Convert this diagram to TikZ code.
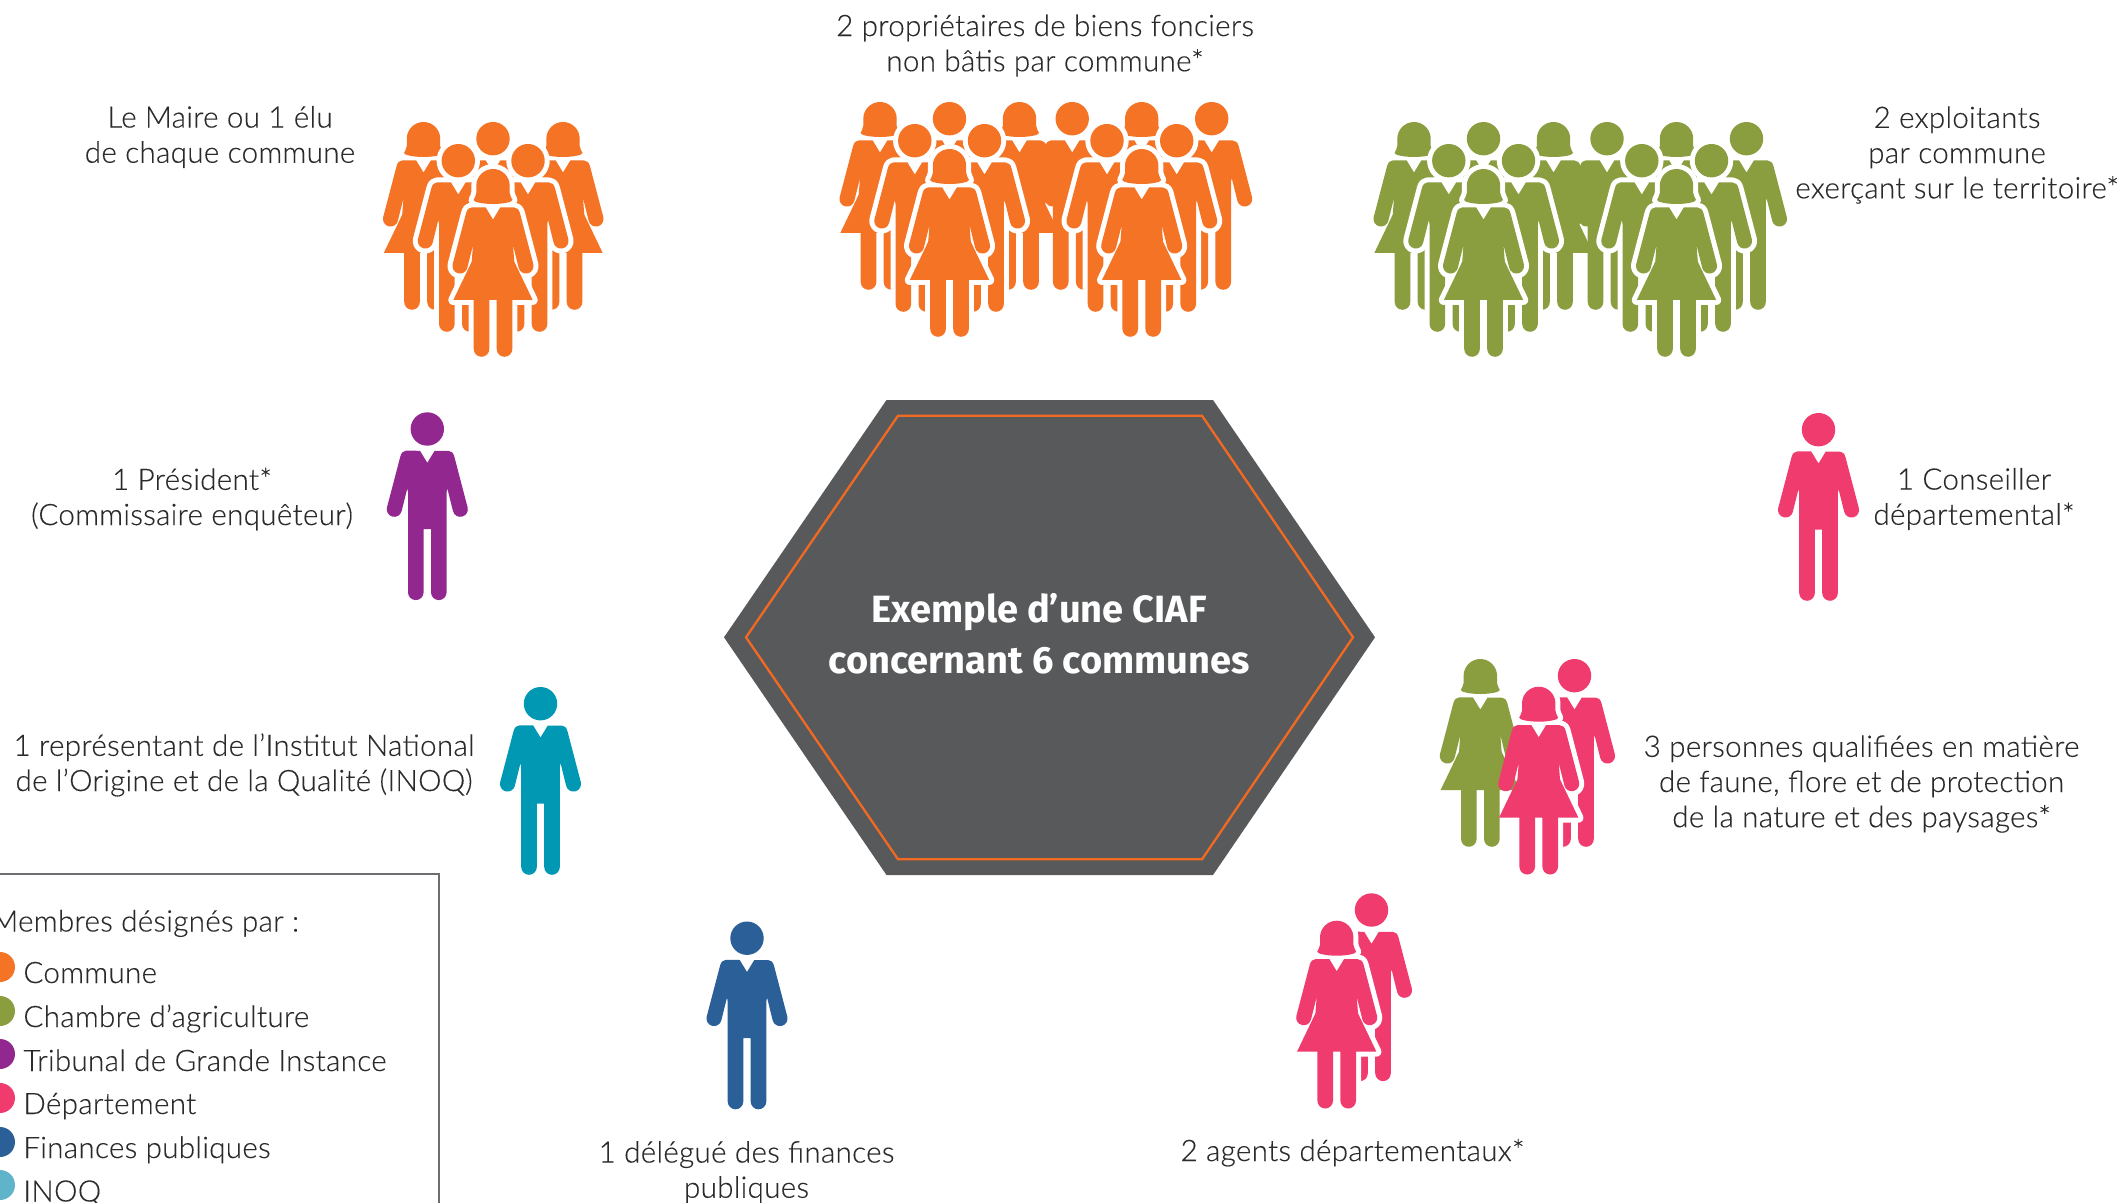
\documentclass[tikz,border=0pt]{standalone}
\usepackage{fontspec}
\setmainfont{Lato Light}[LetterSpace=1.0,FakeBold=0.25]
\newfontfamily\titlefont{Fira Sans}
\definecolor{cOrange}{HTML}{F47325}
\definecolor{cGreen}{HTML}{8A9E40}
\definecolor{cPurple}{HTML}{92278F}
\definecolor{cPink}{HTML}{F03B6E}
\definecolor{cBlue}{HTML}{2B5F97}
\definecolor{cTeal}{HTML}{0098B3}
\definecolor{cSky}{HTML}{5FB4C9}
\definecolor{cHex}{HTML}{58595B}
\definecolor{cLine}{HTML}{F26A21}
\definecolor{cBox}{HTML}{6D6E71}
\definecolor{cText}{HTML}{2B2B2D}
% shapes, in pixels, origin at the top centre of the head
\newcommand\armL{(-20,76) -- (-25.7,98.9) .. controls (-26.77,102.96) and (-30.84,105.37) .. (-34.9,104.3) .. controls (-38.96,103.23) and (-41.37,99.1) .. (-40.3,95.06) -- (-27,44.3) .. controls (-26,40.5) and (-24,38.3) .. (-21,38.3)}
\newcommand\legs{.. controls (19.3,184.3) and (15.8,187.8) .. (11.5,187.8) .. controls (7.2,187.8) and (3.7,184.3) .. (3.7,180)}
\newcommand\legL{.. controls (-3.7,184.3) and (-7.2,187.8) .. (-11.5,187.8) .. controls (-15.8,187.8) and (-19.3,184.3) .. (-19.3,180)}
\newcommand\manshape{(0,16.7) circle (16.7)
  (7.3,38.5) -- (21,38.5) .. controls (24,38.5) and (26,40.5) .. (27,44.3) -- (40.3,95.06) .. controls (41.37,99.1) and (38.96,103.23) .. (34.9,104.3) .. controls (30.84,105.37) and (26.77,102.96) .. (25.7,98.9) -- (20,76)
  -- (19.3,80) -- (19.3,180) \legs -- (3.7,116.7) -- (-3.7,116.7) -- (-3.7,180) \legL -- (-19.3,80) -- \armL -- (-7.3,38.5) -- (0,50.5) -- cycle}
\newcommand\womanshape{(-16.7,16.7) .. controls (-16.7,7.5) and (-9.2,0) .. (0,0) .. controls (9.2,0) and (16.7,7.5) .. (16.7,16.7) -- (16.7,24) .. controls (16.7,27) and (19,29) .. (19.5,31) .. controls (19.5,33) and (10,35) .. (0,35) .. controls (-10,35) and (-19.5,33) .. (-19.5,31) .. controls (-19,29) and (-16.7,27) .. (-16.7,24) -- cycle
  (7.3,38.5) -- (21,38.5) .. controls (24,38.5) and (26,40.5) .. (27,44.3) -- (40.3,95.06) .. controls (41.37,99.1) and (38.96,103.23) .. (34.9,104.3) .. controls (30.84,105.37) and (26.77,102.96) .. (25.7,98.9) -- (20,76)
  -- (21.3,92.7) -- (39.7,131) -- (19.3,131) -- (19.3,180) \legs -- (3.7,131) -- (-3.7,131) -- (-3.7,180) \legL -- (-19.3,131) -- (-39.7,131) -- (-21.3,92.7) -- \armL -- (-7.3,38.5) -- (0,50.5) -- cycle}
% figure: shape, colour, x, y
\newcommand\fig[4]{\fill[#2,shift={(#3,#4)}] #1;}
% the white rim alone
\newcommand\rim[3]{\draw[rimline,shift={(#2,#3)}] #1;}
% figure with a white rim
\newcommand\rimfig[4]{\rim{#1}{#3}{#4}\fig{#1}{#2}{#3}{#4}}
% a cluster: front woman at x,y; back row shapes given
\newcommand\cluster[6]{%
  \fig{#1}{#4}{#5-69.5}{#6-47}\fig{#2}{#4}{#5}{#6-47}\fig{#3}{#4}{#5+70}{#6-47}%
  \rimfig{\manshape}{#4}{#5-34.7}{#6-25}\rimfig{\manshape}{#4}{#5+35}{#6-25}%
  \rimfig{\womanshape}{#4}{#5}{#6}}
\tikzset{
  rimline/.style={draw=white,line width=5pt,line join=round},
  lab/.style={text=cText,font=\fontsize{14.8}{17.6}\selectfont,align=center,anchor=base,inner sep=0pt},
  keytext/.style={text=cText,font=\fontsize{14.8}{17.6}\selectfont,anchor=base west,inner sep=0pt},
  dot/.style={circle,minimum size=15pt,inner sep=0pt},
}
\begin{document}
\begin{tikzpicture}[x=0.5pt,y=-0.5pt]
\useasboundingbox (0,0) rectangle (2118,1203);
\clip (0,0) rectangle (2118,1203);
\fill[white] (0,0) rectangle (2118,1203);
% hexagon
\fill[cHex] (724,637.3) -- (886.5,400) -- (1213,400) -- (1375,637.3) -- (1213,875) -- (886.5,875) -- cycle;
\draw[cLine,line width=1.15pt,line join=miter] (746,637.3) -- (898,415.7) -- (1202,415.7) -- (1353,637.3) -- (1202,859.3) -- (898,859.3) -- cycle;
\node[text=white,font=\titlefont\bfseries\fontsize{19}{25.3}\selectfont,align=center,anchor=center,inner sep=0pt] (title) at (1039,634) {Exemple d’une CIAF\\concernant 6 communes};
% clusters
\cluster{\womanshape}{\manshape}{\womanshape}{cOrange}{493}{169}
\cluster{\womanshape}{\manshape}{\womanshape}{cOrange}{949.5}{149}
\cluster{\manshape}{\womanshape}{\manshape}{cOrange}{1141.7}{149}
\cluster{\womanshape}{\manshape}{\womanshape}{cGreen}{1483.5}{169}
\cluster{\manshape}{\womanshape}{\manshape}{cGreen}{1676.5}{169}
% single figures
\fig{\manshape}{cPurple}{427.3}{412.3}
\fig{\manshape}{cPink}{1818.5}{413}
\fig{\manshape}{cTeal}{540.5}{687}
\fig{\manshape}{cBlue}{747}{921.5}
% three qualified persons
\fig{\manshape}{cPink}{1574.5}{659}
\rim{\womanshape}{1538.7}{686.7}
\fig{\womanshape}{cGreen}{1480.3}{659}
\fig{\womanshape}{cPink}{1538.7}{686.7}
% two agents
\fig{\manshape}{cPink}{1371.5}{893.3}
\rimfig{\womanshape}{cPink}{1336.7}{920.7}
% labels
\node[lab,anchor=center] (l1) at (220,137) {Le Maire ou 1 élu\\de chaque commune};
\node[lab,anchor=center] (l2) at (1045,45.5) {2 propriétaires de biens fonciers\\non bâtis par commune*};
\node[lab,anchor=center] (l3) at (1957,155) {2 exploitants\\par commune\\exerçant sur le territoire*};
\node[lab,anchor=center] (l4) at (192,499) {1 Président*\\(Commissaire enquêteur)};
\node[lab,anchor=center] (l5) at (1974,499) {1 Conseiller\\départemental*};
\node[lab,anchor=center] (l6) at (244,765) {1 représentant de l’Institut National\\de l’Origine et de la Qualité (INOQ)};
\node[lab,anchor=center] (l7) at (1861.5,784) {3 personnes qualifiées en matière\\de faune, flore et de protection\\de la nature et des paysages*};
\node[lab,anchor=center] (l8) at (746.5,1172) {1 délégué des finances\\publiques};
\node[lab] (l9) at (1352.5,1161) {2 agents départementaux*};
% legend
\draw[cBox,line width=1.15pt] (-20,874) rectangle (439,1240);
\node[keytext] (k0) at (-9,931.5) {Membres désignés par :};
\node[dot,fill=cOrange] (d1) at (0,967) {};
\node[dot,fill=cGreen] (d2) at (0,1011) {};
\node[dot,fill=cPurple] (d3) at (0,1054) {};
\node[dot,fill=cPink] (d4) at (0,1098) {};
\node[dot,fill=cBlue] (d5) at (0,1142) {};
\node[dot,fill=cSky] (d6) at (0,1185) {};
\node[keytext] (k1) at (23,983) {Commune};
\node[keytext] (k2) at (23,1027) {Chambre d’agriculture};
\node[keytext] (k3) at (23,1071) {Tribunal de Grande Instance};
\node[keytext] (k4) at (23,1114) {Département};
\node[keytext] (k5) at (23,1158) {Finances publiques};
\node[keytext] (k6) at (23,1201.5) {INOQ};
\end{tikzpicture}
\end{document}
